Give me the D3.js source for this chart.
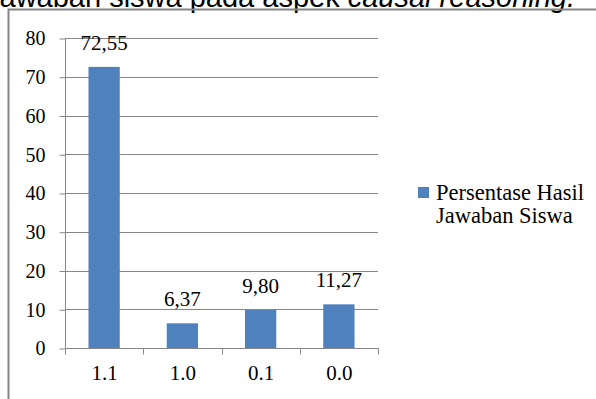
<!DOCTYPE html>
<html>
<head>
<meta charset="utf-8">
<script src="https://cdn.jsdelivr.net/npm/d3@7"></script>
<style>
  body { margin: 0; background: #fff; }
  svg { display: block; }
</style>
</head>
<body>
<svg id="chart" width="596" height="399"></svg>
<script>
// data
let categories = ["1.1", "1.0", "0.1", "0.0"];
let values = [72.55, 6.37, 9.80, 11.27];
let valueLabels = ["72,55", "6,37", "9,80", "11,27"];
let yTicks = [0, 10, 20, 30, 40, 50, 60, 70, 80];
let seriesName = ["Persentase Hasil", "Jawaban Siswa"];

let margin = {top: 38, left: 65, right: 218, bottom: 51};
let width = 596, height = 399;
let gridColor = "#868686";
let barColor = "#4F81BD";
let serif = "'Liberation Serif', 'Times New Roman', serif";

let svg = d3.select("#chart");

// caption line of the document, cut off at the top
let title = svg.append("text")
    .attr("x", -15)
    .attr("y", 7)
    .style("font-family", "'Liberation Sans', Arial, sans-serif")
    .style("font-size", "29px")
    .style("fill", "#000");
title.append("tspan").text("Jawaban siswa pada aspek ");
title.append("tspan").style("font-style", "italic").text("causal reasoning.");

// chart frame (left + top edges visible)
svg.append("path")
    .attr("d", "M8.5 399 V9.5 H596")
    .attr("fill", "none")
    .attr("stroke", gridColor)
    .attr("stroke-width", 2);

let x = d3.scaleBand()
    .domain(categories)
    .range([margin.left, width - margin.right])
    .paddingInner(0.6)
    .paddingOuter(0.3);

let y = d3.scaleLinear()
    .domain([0, 80])
    .range([height - margin.bottom, margin.top]);

// gridlines
svg.append("g")
    .selectAll("line")
    .data(yTicks.slice(1))
    .join("line")
    .attr("x1", margin.left)
    .attr("x2", width - margin.right)
    .attr("y1", d => Math.round(y(d)) + 0.5)
    .attr("y2", d => Math.round(y(d)) + 0.5)
    .attr("stroke", gridColor);

// y axis
let yAxis = svg.append("g")
    .attr("transform", `translate(${margin.left + 0.5},0.5)`)
    .call(d3.axisLeft(y).tickValues(yTicks).tickSize(6).tickPadding(14).tickFormat(d3.format("d")));
yAxis.selectAll("line, path").attr("stroke", gridColor);
yAxis.select(".domain").attr("d", `M0 ${y(0)} V${y(80)}`);
yAxis.selectAll("text")
    .style("font-family", serif)
    .style("font-size", "20px")
    .style("fill", "#000");

// bars
svg.append("g")
    .selectAll("rect")
    .data(values)
    .join("rect")
    .attr("x", (d, i) => x(categories[i]))
    .attr("y", d => y(d))
    .attr("width", x.bandwidth())
    .attr("height", d => y(0) - y(d))
    .attr("fill", barColor);

// x axis
let xAxis = svg.append("g")
    .attr("transform", `translate(0.5,${Math.round(y(0)) + 0.5})`)
    .call(d3.axisBottom(x).tickSize(0).tickPadding(17));
xAxis.selectAll("path").attr("stroke", gridColor).attr("d", `M${margin.left} 0 H${width - margin.right}`);
xAxis.selectAll("text")
    .style("font-family", serif)
    .style("font-size", "21px")
    .style("fill", "#000");
// tick marks between categories
xAxis.append("g")
    .selectAll("line")
    .data(d3.range(categories.length + 1))
    .join("line")
    .attr("x1", i => Math.round(margin.left + i * x.step()))
    .attr("x2", i => Math.round(margin.left + i * x.step()))
    .attr("y1", 0)
    .attr("y2", 6)
    .attr("stroke", gridColor);

// data labels
svg.append("g")
    .selectAll("text")
    .data(values)
    .join("text")
    .attr("x", (d, i) => x(categories[i]) + x.bandwidth() / 2)
    .attr("y", d => y(d) - 17)
    .attr("text-anchor", "middle")
    .style("font-family", serif)
    .style("font-size", "21px")
    .text((d, i) => valueLabels[i]);

// legend
let legend = svg.append("g").attr("transform", "translate(418,187)");
legend.append("rect")
    .attr("width", 11)
    .attr("height", 11)
    .attr("fill", barColor);
legend.append("text")
    .style("font-family", serif)
    .style("font-size", "22.5px")
    .selectAll("tspan")
    .data(seriesName)
    .join("tspan")
    .attr("x", 18)
    .attr("y", (d, i) => 13 + i * 23)
    .text(d => d);
</script>
</body>
</html>
